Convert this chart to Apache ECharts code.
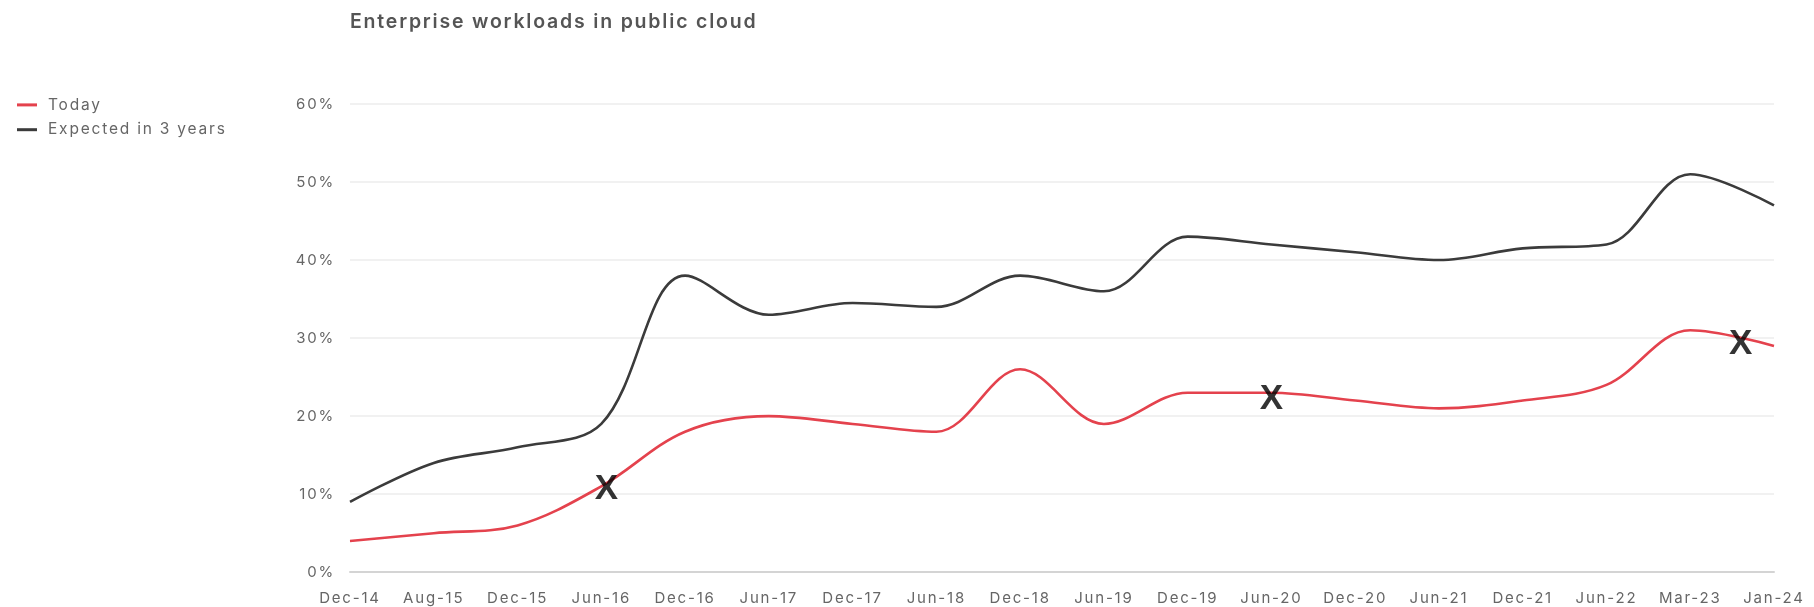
<!DOCTYPE html>
<html>
<head>
<meta charset="utf-8">
<script src="https://cdn.jsdelivr.net/npm/echarts@6/dist/echarts.min.js"></script>
<style>
  html, body { margin: 0; padding: 0; background: #ffffff; }
  #chart { width: 1814px; height: 607px; }
</style>
</head>
<body>
<div id="chart"></div>
<script>
const titleText = 'Enterprise workloads in public cloud';
const categories = ['Dec-14', 'Aug-15', 'Dec-15', 'Jun-16', 'Dec-16', 'Jun-17', 'Dec-17', 'Jun-18', 'Dec-18',
  'Jun-19', 'Dec-19', 'Jun-20', 'Dec-20', 'Jun-21', 'Dec-21', 'Jun-22', 'Mar-23', 'Jan-24'];
const todayValues = [4, 5, 6, 11, 18, 20, 19, 18, 26, 19, 23, 23, 22, 21, 22, 24, 31, 29];
const expectedValues = [9, 14, 16, 19, 38, 33, 34.5, 34, 38, 36, 43, 42, 41, 40, 41.5, 42, 51, 47];
const yTicks = [0, 10, 20, 30, 40, 50, 60];
// Annotation "X" marks: position along the category index, and value
const markerIndex = [3.06, 11.0, 16.6];
const markerValues = [10.9, 22.4, 29.5];
const markerText = 'X';

// The reference typography is widely tracked: add letter spacing to canvas text.
(function () {
  const P = CanvasRenderingContext2D.prototype;
  const LS = '1.8px';
  ['fillText', 'strokeText', 'measureText'].forEach(function (fn) {
    const orig = P[fn];
    P[fn] = function () {
      try { this.letterSpacing = LS; } catch (e) {}
      return orig.apply(this, arguments);
    };
  });
})();

const chart = echarts.init(document.getElementById('chart'), null, { renderer: 'canvas' });
const FONT = 'Inter, "Noto Sans", Roboto, sans-serif';

chart.setOption({
  backgroundColor: '#ffffff',
  animation: false,
  title: {
    text: titleText,
    left: 350,
    top: 11,
    padding: 0,
    textStyle: { fontFamily: FONT, fontSize: 19.5, fontWeight: 600, color: '#555555' }
  },
  legend: {
    data: ['Today', 'Expected in 3 years'],
    orient: 'vertical',
    left: 17,
    top: 96,
    padding: 0,
    itemGap: 7,
    itemWidth: 20,
    itemHeight: 3,
    icon: 'rect',
    textStyle: { fontFamily: FONT, fontSize: 15.5, color: '#666666', padding: [0, 0, 0, 6] }
  },
  grid: { left: 350, right: 40, top: 104, bottom: 34, containLabel: false },
  xAxis: [
    {
      type: 'category',
      data: categories,
      boundaryGap: false,
      axisLine: { show: true, lineStyle: { color: '#d4d4d4', width: 2 } },
      axisTick: { show: false },
      axisLabel: { interval: 0, margin: 18, fontFamily: FONT, fontSize: 15, color: '#666666' },
      splitLine: { show: false }
    },
    {
      type: 'value',
      min: 0,
      max: categories.length - 1,
      show: false
    }
  ],
  yAxis: {
    type: 'value',
    min: yTicks[0],
    max: yTicks[yTicks.length - 1],
    interval: yTicks[1] - yTicks[0],
    axisLine: { show: false },
    axisTick: { show: false },
    axisLabel: { formatter: '{value}%', margin: 15, fontFamily: FONT, fontSize: 15, color: '#666666' },
    splitLine: { lineStyle: { color: '#ececec', width: 1.5 } }
  },
  series: [
    {
      name: 'Expected in 3 years',
      type: 'line',
      data: expectedValues,
      smooth: 0.35,
      showSymbol: false,
      lineStyle: { color: '#3b3b3b', width: 2.6 },
      itemStyle: { color: '#3b3b3b' },
      z: 3
    },
    {
      name: 'Today',
      type: 'line',
      data: todayValues,
      smooth: 0.35,
      showSymbol: false,
      lineStyle: { color: '#e4424d', width: 2.6 },
      itemStyle: { color: '#e4424d' },
      z: 4
    },
    {
      name: 'markers',
      type: 'scatter',
      xAxisIndex: 1,
      data: markerIndex.map((v, i) => [v, markerValues[i]]),
      symbolSize: 0,
      silent: true,
      z: 10,
      label: {
        show: true,
        position: 'inside',
        formatter: markerText,
        offset: [1, 2],
        fontFamily: '"Liberation Sans", Arial, sans-serif',
        fontWeight: 'bold',
        fontSize: 35,
        color: '#000000'
      }
    }
  ]
});
</script>
</body>
</html>
